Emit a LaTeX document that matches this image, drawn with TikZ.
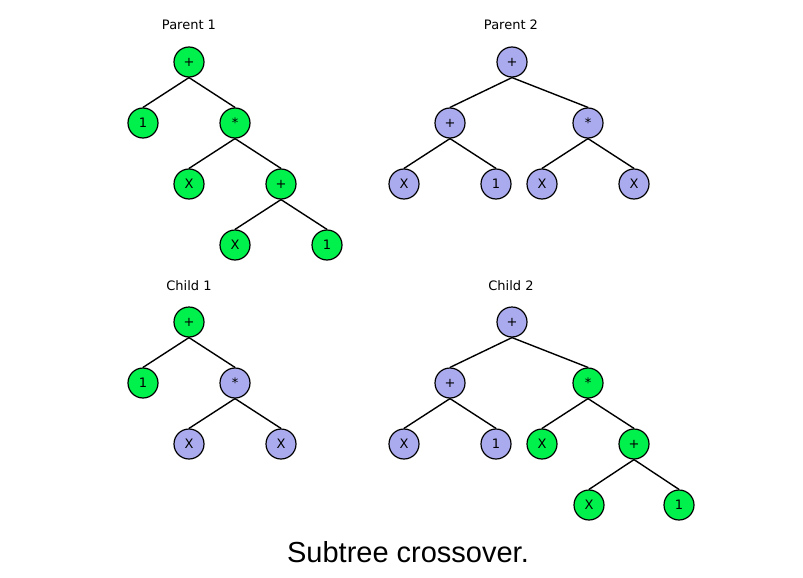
\documentclass[tikz,border=0pt]{standalone}
\usepackage{fontspec}
\setmainfont{DejaVu Sans}
\newfontfamily\capfont{Liberation Sans}
\usetikzlibrary{positioning}
\definecolor{gpgreen}{HTML}{00F04C}
\definecolor{gpblue}{HTML}{AAAAEE}

\begin{document}
\begin{tikzpicture}[
    x=1pt, y=1pt,
    grow=down,
    level distance=61pt,
    sibling distance=92pt,
    edge from parent/.style={draw, line width=1.4pt},
    edge from parent path={(\tikzparentnode.south) -- (\tikzchildnode.north)},
    g/.style={draw, circle, fill=gpgreen, line width=1.2pt, minimum size=30pt,
              inner sep=0pt, font=\fontsize{13}{13}\selectfont},
    b/.style={g, fill=gpblue},
    ttl/.style={font=\fontsize{13}{13}\selectfont},
  ]
\useasboundingbox (0,0) rectangle (803,-578);

% parent 1
\node[ttl] (t1) at (189,-25) {Parent 1};
\node[g] (p1) at (189,-62) {+}
    child { node[g] (p1l) {1} }
    child { node[g] (p1r) {*}
        child { node[g] (p1rl) {X} }
        child { node[g] (p1rr) {+}
            child { node[g] (p1rrl) {X} }
            child { node[g] (p1rrr) {1} }
        }
    };

% parent 2 (subtrees sit a little right of the root)
\node[ttl] (t2) at (511,-25) {Parent 2};
\node[b] (p2) at (512,-62) {+};
\begin{scope}[level 1/.style={sibling distance=138pt,
                edge from parent path={(p2.south) -- (\tikzchildnode.north)}},
              level 2/.style={sibling distance=92pt,
                edge from parent path={(\tikzparentnode.south) -- (\tikzchildnode.north)}}]
\coordinate (p2h) at (519,-62)
    child { node[b] (p2l) {+}
        child { node[b] (p2ll) {X} }
        child { node[b] (p2lr) {1} }
    }
    child { node[b] (p2r) {*}
        child { node[b] (p2rl) {X} }
        child { node[b] (p2rr) {X} }
    };
\end{scope}

% child 1
\node[ttl] (t3) at (189,-286) {Child 1};
\node[g] (c1) at (189,-322) {+}
    child { node[g] (c1l) {1} }
    child { node[b] (c1r) {*}
        child { node[b] (c1rl) {X} }
        child { node[b] (c1rr) {X} }
    };

% child 2
\node[ttl] (t4) at (511,-286) {Child 2};
\node[b] (c2) at (512,-322) {+};
\begin{scope}[level 1/.style={sibling distance=138pt,
                edge from parent path={(c2.south) -- (\tikzchildnode.north)}},
              level 2/.style={sibling distance=92pt,
                edge from parent path={(\tikzparentnode.south) -- (\tikzchildnode.north)}},
              level 3/.style={sibling distance=90pt}]
\coordinate (c2h) at (519,-322)
    child { node[b] (c2l) {+}
        child { node[b] (c2ll) {X} }
        child { node[b] (c2lr) {1} }
    }
    child { node[g] (c2r) {*}
        child { node[g] (c2rl) {X} }
        child { node[g] (c2rr) {+}
            child { node[g] (c2rrl) {X} }
            child { node[g] (c2rrr) {1} }
        }
    };
\end{scope}

\node[font=\capfont\fontsize{29}{29}\selectfont] (cap) at (408,-552) {Subtree crossover.};
\end{tikzpicture}
\end{document}
